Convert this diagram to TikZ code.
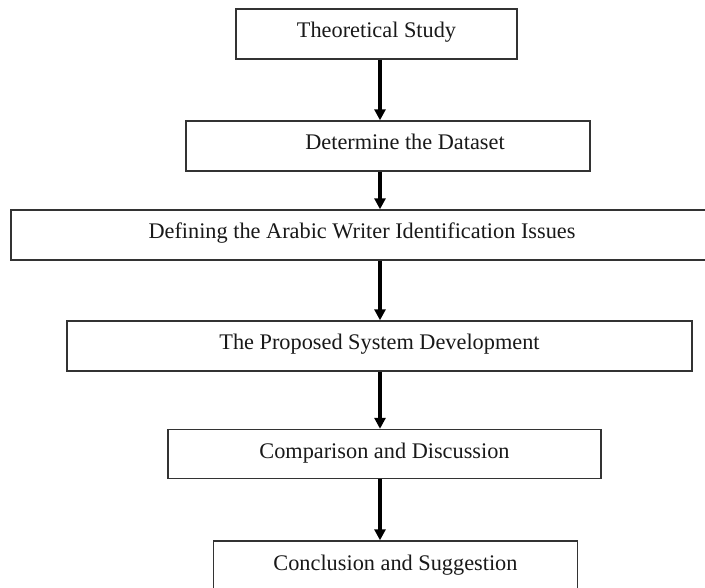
\documentclass[tikz,border=0pt]{standalone}
\usepackage{fontspec}
\setmainfont{Liberation Serif}
\usetikzlibrary{arrows.meta}
\begin{document}
\begin{tikzpicture}[x=1pt,y=-1pt,
  stepbox/.style={draw=black!80, line width=1.4pt, fill=white, inner sep=0pt,
    text height=15pt, text depth=7pt,
    font=\fontsize{22.3}{26}\selectfont, text=black!90},
  flow/.style={line width=3.2pt, -{Triangle[length=11pt,width=11pt]}}]
\useasboundingbox (0,0) rectangle (705,588);
\clip (0,0) rectangle (705,588);
\fill[white] (0,0) rectangle (705,588);
\coordinate (ax) at (380,0);
% boxes: centre (x,y), width, height
\node[stepbox, minimum width=281pt, minimum height=50pt] (b1) at (376.5,34) {Theoretical Study};
\node[stepbox, minimum width=404pt, minimum height=50pt] (b2) at (388,146) {\hspace*{34pt}Determine the Dataset};
\node[stepbox, minimum width=710pt, minimum height=50pt] (b3) at (366,235) {Defining the Arabic Writer Identification Issues\hspace*{8pt}};
\node[stepbox, minimum width=625pt, minimum height=50pt] (b4) at (379.5,346) {The Proposed System Development};
\node[stepbox, minimum width=433pt, minimum height=49pt] (b5) at (384.5,454) {Comparison and Discussion};
\node[stepbox, minimum width=364pt, minimum height=50pt] (b6) at (395.5,566) {Conclusion and Suggestion};
% connectors
\draw[flow] (b1.south -| ax) -- (b2.north -| ax);
\draw[flow] (b2.south -| ax) -- (b3.north -| ax);
\draw[flow] (b3.south -| ax) -- (b4.north -| ax);
\draw[flow] (b4.south -| ax) -- (b5.north -| ax);
\draw[flow] (b5.south -| ax) -- (b6.north -| ax);
\end{tikzpicture}
\end{document}
